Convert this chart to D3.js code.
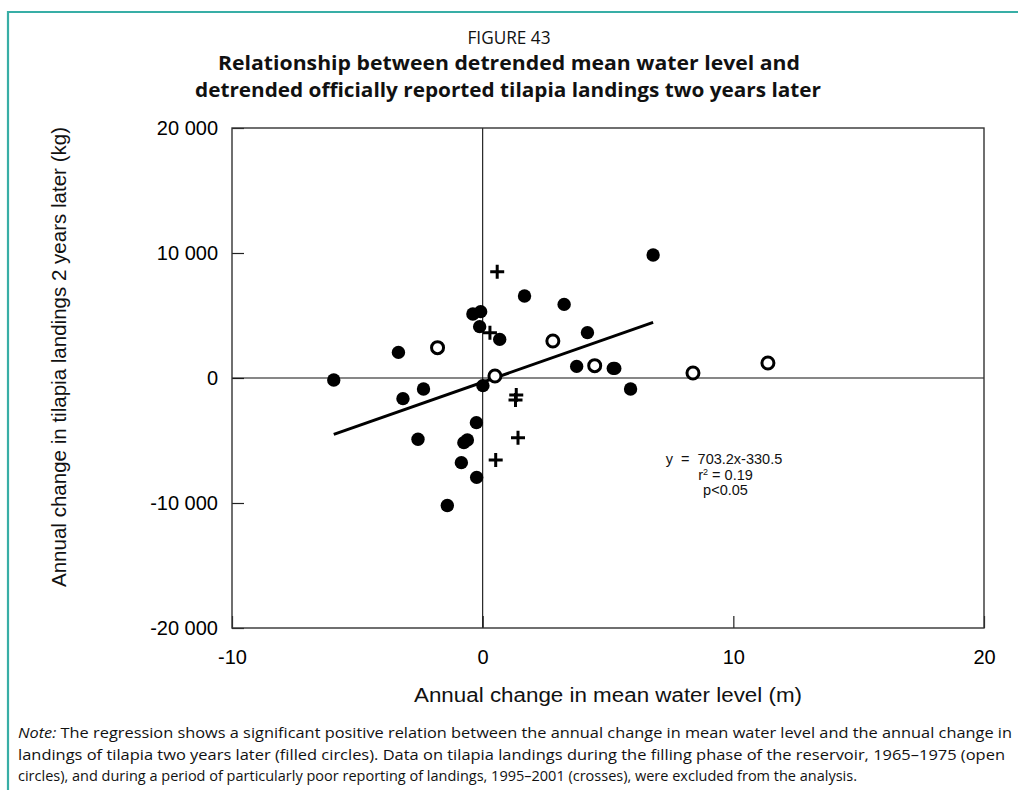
<!DOCTYPE html>
<html>
<head>
  <title>Figure 43: water level vs tilapia landings</title>
  <style>
    html, body { margin: 0; padding: 0; background: #fff; }
    .axis text { font-family: "Liberation Sans", Arial, sans-serif; font-size: 20px; fill: #000; }
    .axis line { stroke: #222; stroke-width: 1.2px; }
    .axis .domain { display: none; }
    .frame { fill: none; stroke: #333; stroke-width: 1.4px; }
    .zero { stroke: #111; stroke-width: 1.1px; }
    .title { font-family: "Open Sans", "Noto Sans", sans-serif; fill: #111; }
    .note { font-family: "Open Sans", "Noto Sans", sans-serif; font-size: 14.5px; fill: #111; }
    .label { font-family: "Liberation Sans", Arial, sans-serif; font-size: 20px; fill: #111; }
    .stats { font-family: "Liberation Sans", Arial, sans-serif; font-size: 14.5px; fill: #111; }
  </style>
</head>
<body>
  <svg id="chart" width="1018" height="790"></svg>

  <script src="https://d3js.org/d3.v7.min.js"></script>
  <script>
    // filled circles (used in the regression)
    const filledX = [-5.94, -3.36, -3.18, -2.36, -2.58, -1.41, -0.85, -0.75, -0.61, -0.24, -0.25, 0.01,
                     -0.39, -0.08, -0.12, 0.68, 1.67, 3.25, 4.18, 3.75, 5.21, 5.27, 5.90, 6.80];
    const filledY = [-160, 2050, -1650, -880, -4900, -10200, -6770, -5170, -4960, -7950, -3570, -610,
                     5120, 5310, 4110, 3090, 6560, 5890, 3630, 930, 770, 770, -880, 9840];
    // open circles: filling phase 1965-1975
    const openX = [-1.80, 0.49, 2.80, 4.47, 8.39, 11.38];
    const openY = [2430, 160, 2960, 990, 400, 1200];
    // crosses: poor reporting 1995-2001
    const crossX = [0.58, 0.29, 1.34, 1.31, 1.41, 0.52];
    const crossY = [8510, 3630, -1360, -1760, -4770, -6560];

    const xTicks = [-10, 0, 10, 20];
    const yTicks = [-20000, -10000, 0, 10000, 20000];
    const slope = 703.2, intercept = -330.5;
    const statsLines = ["y  =  703.2x-330.5", "r2 = 0.19", "p<0.05"];

    const titleLines = ["FIGURE 43",
      "Relationship between detrended mean water level and",
      "detrended officially reported tilapia landings two years later"];
    const noteLines = [
      "The regression shows a significant positive relation between the annual change in mean water level and the annual change in",
      "landings of tilapia two years later (filled circles). Data on tilapia landings during the filling phase of the reservoir, 1965\u20131975 (open",
      "circles), and during a period of particularly poor reporting of landings, 1995\u20132001 (crosses), were excluded from the analysis."
    ];

    const svg = d3.select("#chart");
    const plot = { left: 232, right: 984, top: 128, bottom: 628 };

    // teal page frame
    svg.append("path")
       .attr("d", "M8,790 V12 H1018")
       .attr("fill", "none")
       .attr("stroke", "#38aea6")
       .attr("stroke-width", 2.2);

    const x = d3.scaleLinear().domain([-10, 20]).range([plot.left, plot.right]);
    const y = d3.scaleLinear().domain([-20000, 20000]).range([plot.bottom, plot.top]);

    const loc = d3.formatLocale({ decimal: ".", thousands: "\u00a0", grouping: [3], currency: ["", ""], minus: "-" });
    const fmt = loc.format(",");

    // titles
    svg.append("text").attr("class", "title")
       .attr("x", 509).attr("y", 44).attr("text-anchor", "middle")
       .style("font-size", "19px")
       .attr("textLength", 83).attr("lengthAdjust", "spacingAndGlyphs")
       .text(titleLines[0]);
    svg.append("text").attr("class", "title")
       .attr("x", 509).attr("y", 70).attr("text-anchor", "middle")
       .style("font-size", "19.5px").style("font-weight", "bold")
       .attr("textLength", 582).attr("lengthAdjust", "spacingAndGlyphs")
       .text(titleLines[1]);
    svg.append("text").attr("class", "title")
       .attr("x", 508).attr("y", 97).attr("text-anchor", "middle")
       .style("font-size", "19.5px").style("font-weight", "bold")
       .attr("textLength", 626).attr("lengthAdjust", "spacingAndGlyphs")
       .text(titleLines[2]);

    // axes
    svg.append("g").attr("class", "axis")
       .attr("transform", `translate(${plot.left},0)`)
       .call(d3.axisLeft(y).tickValues(yTicks).tickFormat(fmt).tickSizeInner(-12).tickSizeOuter(0).tickPadding(14));

    svg.append("g").attr("class", "axis")
       .attr("transform", `translate(0,${plot.bottom})`)
       .call(d3.axisBottom(x).tickValues(xTicks).tickFormat(fmt).tickSizeInner(-12).tickSizeOuter(0).tickPadding(22));

    // zero lines
    svg.append("line").attr("class", "zero")
       .attr("x1", x(-10)).attr("x2", x(20)).attr("y1", y(0)).attr("y2", y(0));
    svg.append("line").attr("class", "zero")
       .attr("x1", x(0)).attr("x2", x(0)).attr("y1", y(-20000)).attr("y2", y(20000));

    svg.append("rect").attr("class", "frame")
       .attr("x", plot.left).attr("y", plot.top)
       .attr("width", plot.right - plot.left).attr("height", plot.bottom - plot.top);

    // regression line over range of filled points
    const xr = d3.extent(filledX);
    svg.append("line")
       .attr("x1", x(xr[0])).attr("y1", y(slope * xr[0] + intercept))
       .attr("x2", x(xr[1])).attr("y2", y(slope * xr[1] + intercept))
       .attr("stroke", "#000").attr("stroke-width", 3);

    const filled = filledX.map((v, i) => ({ x: v, y: filledY[i] }));
    const open = openX.map((v, i) => ({ x: v, y: openY[i] }));
    const cross = crossX.map((v, i) => ({ x: v, y: crossY[i] }));

    svg.selectAll(".filled").data(filled).enter().append("circle")
       .attr("class", "filled")
       .attr("cx", d => x(d.x)).attr("cy", d => y(d.y))
       .attr("r", 6.7).attr("fill", "#000");

    svg.selectAll(".open").data(open).enter().append("circle")
       .attr("class", "open")
       .attr("cx", d => x(d.x)).attr("cy", d => y(d.y))
       .attr("r", 6).attr("fill", "#fff").attr("stroke", "#000").attr("stroke-width", 3);

    svg.selectAll(".cross").data(cross).enter().append("path")
       .attr("class", "cross")
       .attr("transform", d => `translate(${x(d.x)},${y(d.y)})`)
       .attr("d", "M-7,0H7M0,-7V7")
       .attr("stroke", "#000").attr("stroke-width", 3).attr("fill", "none");

    // regression stats
    const stats = svg.append("g").attr("class", "stats");
    stats.append("text").attr("x", 724).attr("y", 463.5).attr("text-anchor", "middle")
         .text(statsLines[0].replace(/ /g, "\u00a0"));
    const r2 = stats.append("text").attr("x", 725.5).attr("y", 479.5).attr("text-anchor", "middle");
    r2.append("tspan").text("r");
    r2.append("tspan").attr("dy", -5).style("font-size", "9px").text("2");
    r2.append("tspan").attr("dy", 5).text(statsLines[1].slice(2));
    stats.append("text").attr("x", 725.5).attr("y", 495).attr("text-anchor", "middle")
         .text(statsLines[2]);

    // axis titles
    svg.append("text").attr("class", "label")
       .attr("x", 608).attr("y", 702).attr("text-anchor", "middle")
       .attr("textLength", 388).attr("lengthAdjust", "spacingAndGlyphs")
       .text("Annual change in mean water level (m)");
    svg.append("text").attr("class", "label")
       .attr("transform", "translate(66,357) rotate(-90)")
       .attr("text-anchor", "middle")
       .attr("textLength", 460).attr("lengthAdjust", "spacingAndGlyphs")
       .text("Annual change in tilapia landings 2 years later (kg)");

    // note
    const noteWidths = [994, 987, 839];
    noteLines.forEach((s, i) => {
      const t = svg.append("text").attr("class", "note")
                   .attr("x", 18).attr("y", 738 + i * 21.5);
      if (i === 0) {
        t.append("tspan").style("font-style", "italic").text("Note:");
        t.append("tspan").text(" " + s);
      } else {
        t.text(s);
      }
      t.attr("textLength", noteWidths[i]).attr("lengthAdjust", "spacingAndGlyphs");
    });
  </script>
</body>
</html>
